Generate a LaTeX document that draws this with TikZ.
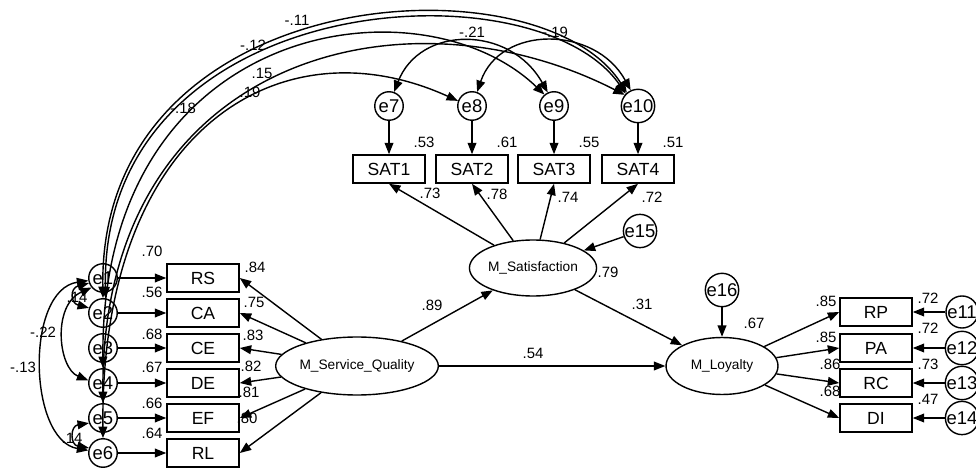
\documentclass[tikz,border=0pt]{standalone}
\usepackage{fontspec}
\setmainfont{Liberation Sans}
\usetikzlibrary{arrows.meta, positioning, shapes.geometric}

\tikzset{
  obs/.style={draw, line width=0.9pt, minimum width=1.44cm, minimum height=0.56cm, inner sep=0pt, font=\fontsize{10}{12}\selectfont},
  err/.style={draw, circle, line width=0.8pt, minimum size=0.57cm, inner sep=0pt, font=\fontsize{10.5}{12}\selectfont},
  lat/.style={draw, ellipse, line width=0.8pt, inner sep=0pt, minimum width=2.24cm, minimum height=1.16cm, font=\fontsize{7.8}{9}\selectfont},
  reg/.style={-{Triangle[length=6.5pt,width=5pt]}, line width=0.8pt},
  cov/.style={{Triangle[length=6.5pt,width=5pt]}-{Triangle[length=6.5pt,width=5pt]}, line width=0.8pt},
  est/.style={inner sep=0pt, font=\fontsize{8.5}{10}\selectfont},
}

\begin{document}
\begin{tikzpicture}[x=0.02cm, y=-0.02cm]
  \useasboundingbox (0,0) rectangle (976,469);

  % 1. Latent variables and their disturbances
  \node[lat] (msq) at (357,366) {M\_Service\_Quality};
  \node[lat, minimum width=2.2cm, minimum height=1.12cm] (msat) at (533,268) {M\_Satisfaction};
  \node[lat, minimum height=1.14cm] (mloy) at (722,366) {M\_Loyalty};
  \node[err] (e15) at (640,231) {e15};
  \node[err] (e16) at (722,290) {e16};

  % 2. Service quality indicators
  \foreach \n/\lbl/\y in {1/RS/278, 2/CA/313, 3/CE/348, 4/DE/383, 5/EF/418, 6/RL/453} {
    \node[obs] (\lbl) at (203,\y) {\lbl};
    \node[err] (e\n) at (103,\y) {e\n};
    \draw[reg] (e\n) -- (\lbl);
    \draw[reg] (msq) -- (\lbl.east);
  }

  % 3. Satisfaction indicators
  \foreach \n/\k/\x in {7/1/389, 8/2/472, 9/3/554, 10/4/638} {
    \node[obs] (SAT\k) at (\x,169) {SAT\k};
    \node[err] (e\n) at (\x,106) {e\n};
    \draw[reg] (e\n) -- (SAT\k);
    \draw[reg] (msat) -- (SAT\k.south);
  }

  % 4. Loyalty indicators
  \foreach \n/\lbl/\y in {11/RP/312, 12/PA/348, 13/RC/383, 14/DI/418} {
    \node[obs] (\lbl) at (876,\y) {\lbl};
    \node[err] (e\n) at (962,\y) {e\n};
    \draw[reg] (e\n) -- (\lbl);
    \draw[reg] (mloy) -- (\lbl.west);
  }

  % 5. Structural paths
  \draw[reg] (msq) -- (msat);
  \draw[reg] (msq) -- (mloy);
  \draw[reg] (msat) -- (mloy);
  \draw[reg] (e15) -- (msat);
  \draw[reg] (e16) -- (mloy);

  % 6. Error covariances (left column)
  \draw[cov] (e1.200) .. controls (70,288) and (70,303) .. (e2.160);
  \draw[cov] (e1.220) .. controls (52,305) and (58,368) .. (e4.170);
  \draw[cov] (e1.190) .. controls (25,290) and (28,440) .. (e6.170);
  \draw[cov] (e5.200) .. controls (70,426) and (70,445) .. (e6.160);

  % error covariances (top row and long ones)
  \draw[cov] (e7.70) .. controls (420,25) and (510,25) .. (e9.115);
  \draw[cov] (e8.70) .. controls (500,25) and (595,25) .. (e10.115);
  \draw[cov] (e2.north) .. controls (98,-20) and (540,-45) .. (e10.130);
  \draw[cov] (e2.80) .. controls (100,-12) and (535,-38) .. (e10.135);
  \draw[cov] (e4.north) .. controls (100,20) and (420,-25) .. (e9.130);
  \draw[cov] (e5.north) .. controls (100,60) and (400,-20) .. (e10.140);
  \draw[cov] (e6.north) .. controls (100,130) and (280,20) .. (e8.160);

  % 7. Estimates
  \foreach \val/\x/\y [count=\i] in {
      .70/152/251, .56/152/292, .68/152/334, .67/152/367, .66/152/403, .64/152/433,
      .84/255/267, .75/254/302, .83/253/335, .82/251/366, .81/249/392, .80/247/418,
      .53/424/142, .61/507/142, .55/589/142, .51/673/142,
      .73/430/193, .78/497/194, .74/568/197, .72/652/197,
      .89/432/305, .79/608/272, .31/642/304, .54/533/353, .67/754/323,
      .85/826/301, .85/826/337, .86/830/364, .68/830/391,
      .72/928/298, .72/928/328, .73/928/364, .47/928/399,
      -.11/297/20, -.12/253/45, .15/262/73, .19/250/92, -.18/183/108,
      -.21/472/32, -.19/555/32,
      .14/77/297, -.22/43/332, -.13/23/367, .14/72/438}
    \node[est] (est\i) at (\x,\y) {\val};

\end{tikzpicture}
\end{document}
